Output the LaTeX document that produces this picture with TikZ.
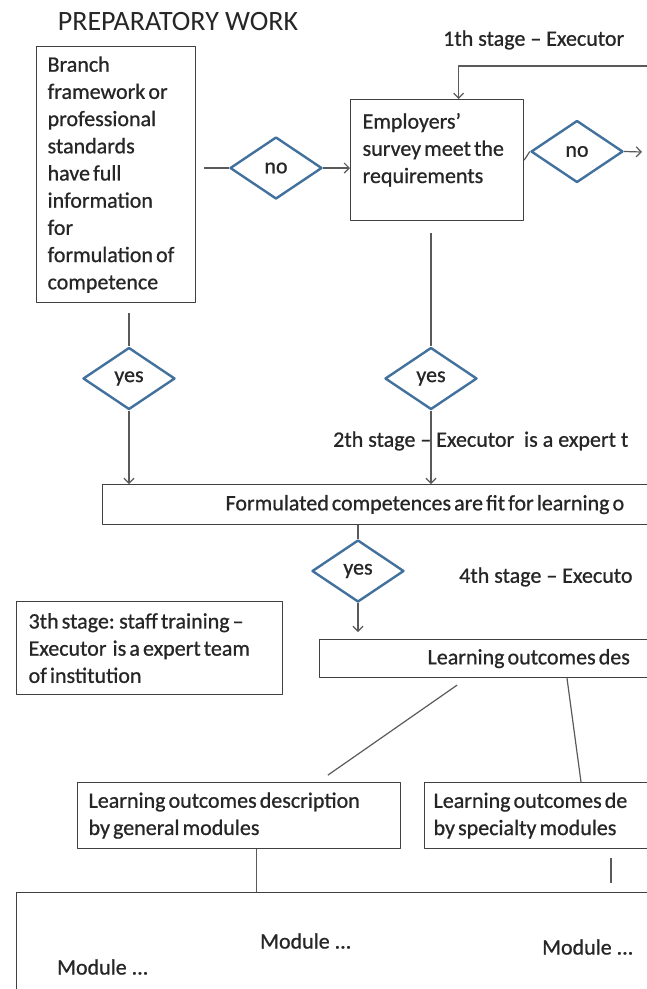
\documentclass[tikz,border=0pt]{standalone}
\usepackage{fontspec}
\setmainfont{Carlito}[UprightFeatures={FakeBold=0.8}]
\newfontfamily\titlefont{Carlito}
\usepackage{tikz}
\usetikzlibrary{arrows.meta,shapes.geometric}
\definecolor{inkgray}{HTML}{262626}
\definecolor{framegray}{HTML}{404040}
\definecolor{linkgray}{HTML}{5A5A5A}
\definecolor{choiceblue}{HTML}{41719C}

\begin{document}
\begin{tikzpicture}[x=1pt,y=-1pt,>={Straight Barb[length=5pt,width=10pt]},line join=round,
  every node/.style={text=inkgray,font=\fontsize{22}{27.2}\selectfont},
  box/.style={draw=framegray,line width=1.2pt,align=left,inner ysep=0pt,
    execute at begin node={\spaceskip=0.14em plus 0.05em\xspaceskip=0.2em\relax}},
  choice/.style={diamond,draw=choiceblue,line width=2.4pt,minimum width=92pt,minimum height=62pt,inner sep=0pt},
  link/.style={draw=linkgray,line width=1.2pt},
  stagetag/.style={anchor=west,inner sep=0pt}]
  \useasboundingbox (0,0) rectangle (647,989);
  \clip (0,0) rectangle (647,989);

  \node[font=\titlefont\fontsize{28}{32}\selectfont] (title) at (178,22) {PREPARATORY WORK};

  % first row
  \node[box,anchor=north west,text width=137pt,inner xsep=11pt,minimum height=256pt] (branch) at (36,46)
    {Branch\\framework or\\professional\\standards\\have full\\information\\for\\formulation of\\competence};
  \node[box,anchor=north west,text width=149pt,inner xsep=12pt,text height=29pt,text depth=92pt] (emp) at (350,99)
    {Employers'\\survey meet the\\requirements};
  \node[choice] (no1) at (276,168) {no};
  \node[choice] (no2) at (577,151.5) {no};
  \node[stagetag] (stage1) at (443,40) {1th stage – Executor};

  % second row
  \node[choice] (yes1) at (129,378.5) {yes};
  \node[choice] (yes2) at (431,378.5) {yes};
  \node[stagetag] (stage2) at (333,441) {2th stage – Executor\ \ is a expert t};
  \node[box,anchor=north west,minimum height=40pt,text width=560pt,inner xsep=123pt] (fit) at (102,484)
    {Formulated competences are fit for learning o};
  \node[choice] (yes3) at (358,571) {yes};
  \node[stagetag] (stage4) at (459,577) {4th stage – Executo};
  \node[box,anchor=north west,text width=242pt,inner xsep=12pt,minimum height=93pt] (stage3) at (16,601)
    {3th stage: staff training –\\Executor\ \ is a expert team\\of institution};
  \node[box,anchor=north west,minimum height=38pt,text width=400pt,inner xsep=108pt] (lod) at (319,639)
    {Learning outcomes des};

  % modules
  \node[box,anchor=north west,minimum height=66pt,text width=301pt,inner xsep=11pt] (gen) at (77,782)
    {Learning outcomes description\\by general modules};
  \node[box,anchor=north west,minimum height=66pt,text width=300pt,inner xsep=9pt] (spec) at (424,782)
    {Learning outcomes de\\by specialty modules};
  \node[box,anchor=north west,minimum width=700pt,minimum height=200pt] (modules) at (16,892) {};
  \node[stagetag] (modA) at (260,941) {Module ...};
  \node[stagetag] (modB) at (57,967) {Module ...};
  \node[stagetag] (modC) at (542,947) {Module ...};

  % connectors
  \coordinate (loopin) at (660,66);
  \coordinate (no2out) at (642,152);
  \draw[link,shorten <=8pt] (no1.west -| branch.east) -- (no1.west);
  \draw[link,->] (no1.east) -- (no1.east -| emp.west);
  \draw[link,->] (loopin) -| ([xshift=21.5pt]emp.north);
  \draw[link] (emp.east) -- (no2.west);
  \draw[link,->] (no2.east) -- (no2out);
  \draw[link,shorten <=12pt] (yes2.north |- emp.south) -- (yes2.north);
  \draw[link,->] (yes2.south) -- (yes2.south |- fit.north);
  \draw[link,shorten <=10pt] (yes1.north |- branch.south) -- (yes1.north);
  \draw[link,->] (yes1.south) -- (yes1.south |- fit.north);
  \draw[link] (yes3.north |- fit.south) -- (yes3.north);
  \draw[link,->,shorten >=7pt] (yes3.south) -- (yes3.south |- lod.north);
  \draw[link,shorten <=12pt,shorten >=12pt] ([xshift=148pt]lod.south west) -- ([xshift=241pt]gen.north west);
  \draw[link] ([xshift=248pt]lod.south west) -- ([xshift=157pt]spec.north west);
  \draw[link] ([xshift=17pt]gen.south) -- ([xshift=17pt]gen.south |- modules.north);
  \draw[link,shorten <=9pt,shorten >=9pt] ([xshift=187pt]spec.south west) -- ([xshift=187pt]spec.south west |- modules.north);
\end{tikzpicture}
\end{document}
